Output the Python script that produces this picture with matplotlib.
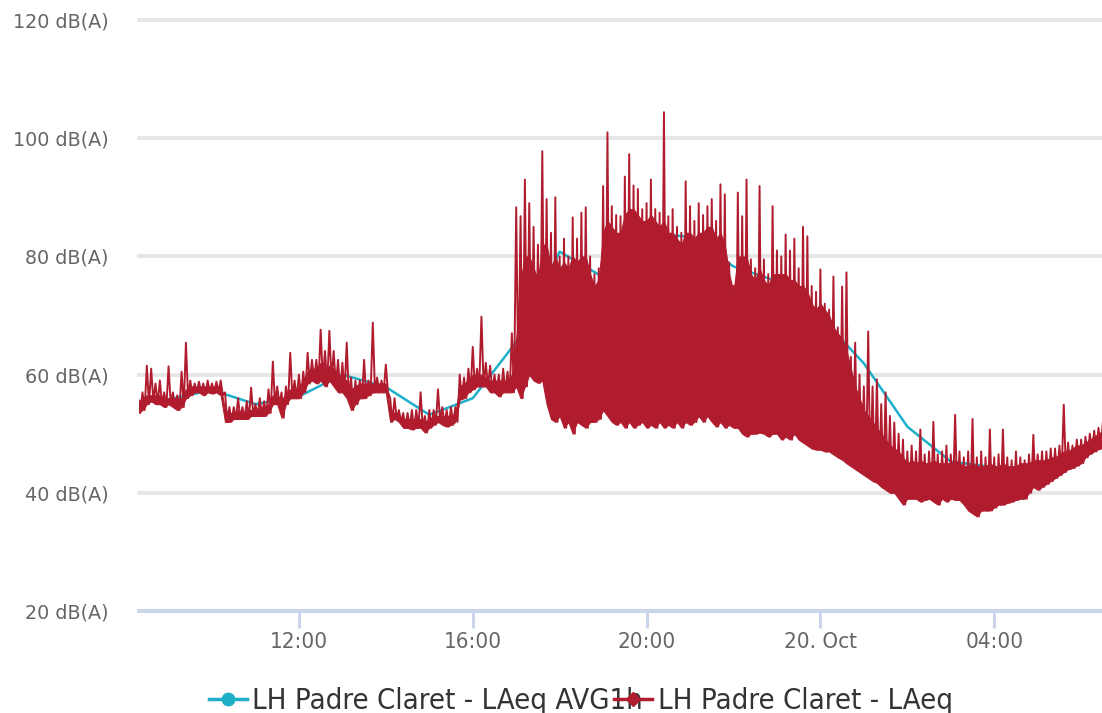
import numpy as np
import matplotlib.pyplot as plt
from matplotlib.lines import Line2D
from matplotlib.font_manager import FontProperties

# horas contadas desde el 19 oct 00:00
t_avg = [8.3, 9, 10, 11, 12, 13, 14, 15, 16, 17, 18, 19, 20, 21, 22, 23,
         24, 25, 26, 27, 28, 29, 30, 30.5]
laeq_avg = [55.2, 55.8, 57.4, 55.0, 56.3, 60.0, 57.9, 53.2, 56.0, 65.5, 80.8,
            76.5, 84.0, 83.3, 78.3, 75.8, 69.8, 61.9, 51.2, 45.3, 44.3, 44.2,
            46.2, 47.9]

# LAeq cada 0.1 h desde las 8.3 h: picos, borde superior de la zona densa y valles
t_start, t_step = 8.3, 0.1
laeq_hi = [
    56, 57, 61.5, 61, 58.5, 59, 57,                              # 8.3-8.9
    61.4, 57, 56.5, 60.5, 65.4, 59, 58.5, 58.8, 58.5, 59,        # 9
    58.5, 58.8, 59, 57, 54.5, 54.5, 56, 54.5, 55.5, 57.8,        # 10
    55, 56, 55.5, 57.5, 62.2, 58, 57, 58, 63.7, 59,              # 11
    60, 60.5, 63.7, 62.5, 62.5, 67.6, 64, 67.4, 64, 62.5,        # 12
    62, 65.4, 59.5, 59, 59, 62.5, 59, 68.8, 59.5, 59,            # 13
    61.7, 56, 56, 54, 53.5, 53.5, 54, 54, 57, 53,                # 14
    54, 54, 57.5, 54.5, 54, 54.5, 54.5, 60, 59.5, 61,            # 15
    64.7, 61, 69.8, 62, 61.5, 60, 60, 61, 60.5, 67,              # 16
    88.3, 86.8, 93, 89, 85, 82, 97.8, 89.7, 84, 90,              # 17
    80, 83, 80, 86.6, 83, 87.4, 88.3, 80, 77, 78,                # 18
    91.9, 101, 88.5, 87, 86.8, 93.5, 97.3, 92, 91.4, 88,         # 19
    89, 93, 88, 87.4, 104.4, 86.8, 88, 85, 84, 92.7,             # 20
    88.5, 86, 89, 87, 88.5, 89.7, 86, 92.2, 90.5, 79,            # 21
    75, 90.8, 86.8, 93, 79.5, 78, 91.9, 79.5, 77, 88.5,          # 22
    81, 80, 83.7, 81, 83, 78, 85, 83.4, 75, 74,                  # 23
    77.8, 72, 71, 76.6, 68, 74.9, 77.3, 63, 65.4, 60,            # 24
    58, 67.3, 58, 59.2, 55, 57, 53, 51.9, 50, 49,                # 25
    47, 48, 47, 50.7, 46.5, 47, 52, 46.5, 47, 48,                # 26
    46.5, 53.2, 47, 46, 47, 52.5, 46, 47, 46, 50.7,              # 27
    46, 46.5, 50.7, 46, 45.5, 47, 46, 45.5, 46.5, 49.8,          # 28
    46.5, 47, 47, 47.5, 47.5, 48, 54.9, 48.5, 48, 49,            # 29
    49, 49.5, 50, 50.5, 51, 52,                                  # 30.0-30.5
]
laeq_body = [
    55.5, 56, 56.5, 56.5, 56.5, 56.5, 56,
    56, 56, 56, 56, 57.5, 58, 58, 58, 58, 58,
    58, 58, 58, 54, 53.5, 53.5, 54, 53.5, 54, 54,
    54, 54.5, 54.5, 55, 56.5, 56.5, 55.5, 57, 57.5, 57.5,
    58, 59, 60.5, 61, 61, 62, 61, 61.5, 61, 60,
    59.5, 59, 57.5, 58, 58.5, 58.5, 58.5, 58.5, 58.5, 58.5,
    58.5, 54, 53.5, 53, 52.5, 52.5, 52.5, 52.5, 52.5, 52,
    52.5, 53, 53, 53, 53, 53, 53.5, 58, 58.5, 59,
    60, 60, 60, 59.5, 59, 59, 59, 59, 59, 60,
    66, 76, 80, 80, 78, 76, 82, 82, 78, 80,
    78, 79, 78, 80, 79, 80, 80, 77, 75, 76,
    84, 86, 85, 84, 84, 87, 88, 88, 87, 86,
    86, 87, 86, 85, 86, 84, 84, 83, 82, 84,
    84, 83, 84, 84, 85, 85, 83, 84, 82, 77,
    74, 80, 80, 80, 77, 76, 78, 76, 75, 77,
    77, 77, 77, 76, 76, 75, 75, 74, 72, 71,
    72, 71, 70, 68, 67, 66, 64, 61, 58, 56,
    54, 53, 52, 51, 50, 49, 48, 47.5, 47, 46,
    45, 45.5, 45, 45.5, 45, 45, 45.5, 45, 45, 45,
    45, 45.5, 45, 44.5, 44.5, 45, 44.5, 44.5, 44.5, 45,
    44.5, 44.5, 45, 44.5, 44.5, 44.5, 45, 45, 45, 45.5,
    45.5, 45.5, 45.5, 46, 46, 46.5, 47, 47, 47.5, 48,
    48, 48.5, 49, 49.5, 50, 50.5,
]
laeq_lo = [
    53.5, 54, 55, 55.5, 55, 55, 54.5,
    55, 54.5, 54, 54.5, 56, 56.5, 57, 57, 56.5, 57,
    56.8, 57, 56.5, 52, 52, 52.5, 52.5, 52.5, 52.5, 53,
    53, 53, 53, 53.5, 55, 55, 52.7, 55, 56, 56,
    56, 57, 58.5, 59, 58.5, 59, 58, 59, 58, 57,
    57, 56, 54, 55, 56, 56, 56.5, 57, 57, 57,
    57, 52, 52.5, 52, 51, 51, 50.7, 51, 51, 50.2,
    51, 51.5, 52, 51.5, 51.2, 51.5, 52, 55.8, 56, 57,
    57.5, 58, 58, 58, 57, 57, 56.3, 57, 57, 57,
    58, 56, 58, 60, 59, 58.6, 59, 55, 52.5, 52,
    53, 51, 52, 50, 52, 51.5, 51, 52, 52, 52.5,
    54, 53, 52, 51.5, 52, 51, 52, 51, 51.5, 52,
    51, 51.5, 51, 52, 51, 51.5, 51, 52, 51, 52,
    51.5, 52, 53, 52, 53, 52, 51.2, 52, 51, 51.5,
    51, 51, 50, 49.5, 50, 50, 50.2, 50, 49.5, 50,
    50, 49, 49.5, 49, 50, 49, 48.5, 48, 47.5, 47.3,
    47.3, 47, 47, 46.5, 46, 45.6, 45, 44.5, 44, 43.5,
    43, 42.5, 42, 41.7, 41, 40.5, 40, 40, 39, 38,
    39, 39, 39, 38.5, 38.8, 39, 38.5, 38, 39, 38.5,
    39, 38.8, 38.8, 38, 37, 36.5, 36, 37, 37, 37,
    37.5, 38, 38, 38.3, 38.5, 38.8, 39, 39, 40, 41,
    40.5, 41, 41.5, 42, 42.5, 43, 43.5, 44, 44.2, 44.6,
    45, 46, 46.6, 47, 47.4, 47.8,
]

y_ticks = [20, 40, 60, 80, 100, 120]
x_ticks = [12, 16, 20, 24, 28]
x_labels = ['12:00', '16:00', '20:00', '20. Oct', '04:00']
series_names = ['LH Padre Claret - LAeq AVG1h', 'LH Padre Claret - LAeq']

red = '#b01c2e'
cyan = '#1eb0c8'

hi = np.array(laeq_hi)
lo = np.array(laeq_lo)
t = t_start + t_step * np.arange(len(hi))
# la línea va de pico a valle
t_zz = np.column_stack([t, t + t_step / 2]).ravel()
v_zz = np.column_stack([hi, lo]).ravel()

fig = plt.figure(figsize=(11.02, 7.13), dpi=100)
ax = fig.add_axes([139 / 1102, 102 / 713, 963 / 1102, 591 / 713])

ax.plot(t_avg, laeq_avg, color=cyan, lw=1.8, zorder=3)
ax.fill_between(t, lo, laeq_body, facecolor=red, edgecolor=red, lw=0.8, zorder=4)
ax.plot(t_zz, v_zz, color=red, lw=1.4, zorder=5)

ax.set_xlim(8.32, 30.48)
ax.set_ylim(20, 120)

ax.set_yticks(y_ticks)
ax.set_yticklabels([f'{v} dB(A)' for v in y_ticks])
ax.set_xticks(x_ticks)
ax.set_xticklabels(x_labels)

cond = FontProperties(family='DejaVu Sans', stretch='condensed', size=16)
for lab in ax.get_xticklabels():
    lab.set_fontproperties(cond)
    lab.set_color('#666666')
ax.tick_params(axis='x', length=12, width=2.2, color='#ccd6eb', pad=3)
ax.tick_params(axis='y', length=0, pad=22, labelsize=13.8, labelcolor='#666666')

ax.yaxis.grid(True, color='#e6e6e6', lw=2.8)
for gl in ax.get_ygridlines():
    gl.set_clip_on(False)
ax.set_axisbelow(True)

for s in ['top', 'left', 'right']:
    ax.spines[s].set_visible(False)
ax.spines['bottom'].set_color('#ccd6eb')
ax.spines['bottom'].set_linewidth(3)

handles = [Line2D([], [], color=cyan, lw=2.5, marker='o', ms=9),
           Line2D([], [], color=red, lw=2.5, marker='D', ms=7)]
leg = fig.legend(handles, series_names, loc='center',
                 bbox_to_anchor=(0.527, 0.017), ncol=2, frameon=False,
                 handlelength=1.3, handletextpad=0.2, columnspacing=-1.0,
                 prop=FontProperties(family='DejaVu Sans', stretch='condensed', size=21))
for txt in leg.get_texts():
    txt.set_color('#333333')

fig.savefig('out.png', dpi=100)
